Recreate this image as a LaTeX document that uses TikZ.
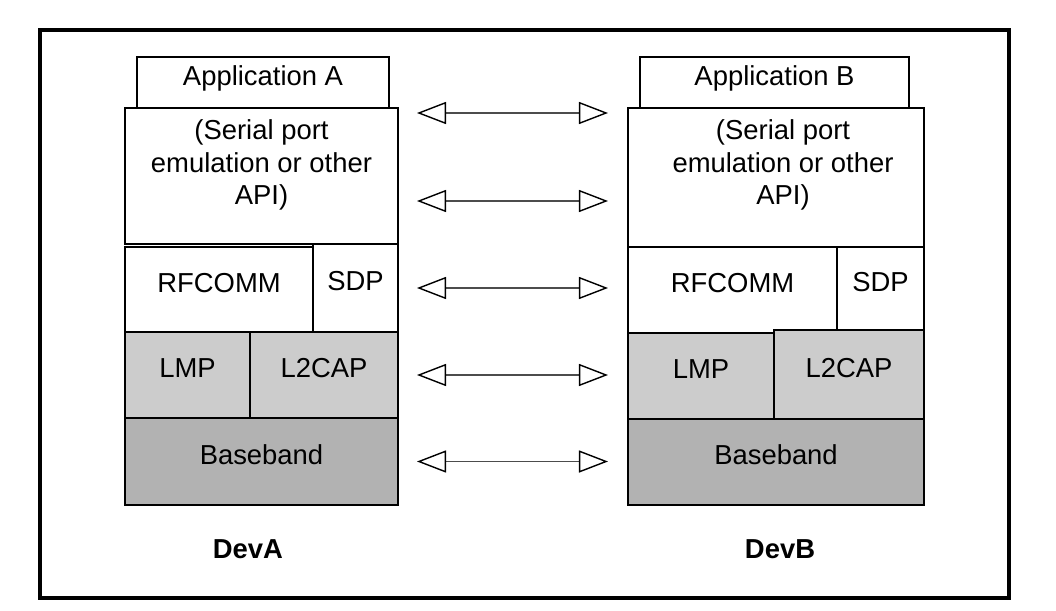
\documentclass[tikz,border=0pt]{standalone}
\usepackage{fontspec}
\setmainfont{Liberation Sans}
\usetikzlibrary{arrows.meta}
\definecolor{LayerGray}{gray}{0.8}
\definecolor{BaseGray}{gray}{0.7}
\definecolor{ArrowGray}{gray}{0.3}
\newcommand{\pxu}{0.025cm}

\begin{document}
\begin{tikzpicture}[x=0.025cm, y=-0.025cm,
    font=\fontsize{19.5}{23.4}\selectfont,
    layer/.style={draw, line width=1.1pt, fill=white, anchor=north west,
        inner sep=0pt, outer sep=0pt, text height=0.75em, text depth=0.39em},
    lowlayer/.style={layer, fill=LayerGray},
    baselayer/.style={layer, fill=BaseGray},
    apitext/.style={anchor=north, align=center, inner sep=0pt},
    biarrow/.style={ArrowGray, line width=0.8pt,
        {Triangle[open, length=0.725cm, width=0.55cm, color=black, line width=1pt]}-{Triangle[open, length=0.725cm, width=0.55cm, color=black, line width=1pt]},
        shorten <=0.475cm, shorten >=0.5cm},
    devlabel/.style={font=\fontsize{19.5}{23.4}\selectfont\bfseries}]

\useasboundingbox (0,0) rectangle (1056,610);

% marco
\draw[line width=2.2pt] (40,30) rectangle (1009,598);

% pila DevA
\node[layer, minimum width=252*\pxu, minimum height=51*\pxu] (appA) at (137,57) {Application A};
\node[layer, minimum width=273*\pxu, minimum height=136*\pxu] (apiA) at (125,108) {};
\node[apitext] (apiAtext) at ([yshift=-11*\pxu]apiA.north) {(Serial port\\emulation or other\\API)};
\node[layer, minimum width=188*\pxu, minimum height=85*\pxu] (rfA) at (125,247) {RFCOMM};
\node[layer, minimum width=85*\pxu, minimum height=88*\pxu] (sdpA) at (313,244) {SDP};
\node[lowlayer, minimum width=125*\pxu, minimum height=86*\pxu] (lmpA) at (125,332) {LMP};
\node[lowlayer, minimum width=148*\pxu, minimum height=86*\pxu] (l2A) at (250,332) {L2CAP};
\node[baselayer, minimum width=273*\pxu, minimum height=87*\pxu] (bbA) at (125,418) {Baseband};

% pila DevB
\node[layer, minimum width=269*\pxu, minimum height=51*\pxu] (appB) at (640,57) {Application B};
\node[layer, minimum width=296*\pxu, minimum height=139*\pxu] (apiB) at (628,108) {};
\node[apitext] (apiBtext) at ([xshift=7*\pxu, yshift=-11*\pxu]apiB.north) {(Serial port\\emulation or other\\API)};
\node[layer, minimum width=209*\pxu, minimum height=86*\pxu] (rfB) at (628,247) {RFCOMM};
\node[layer, minimum width=87*\pxu, minimum height=83*\pxu] (sdpB) at (837,247) {SDP};
\node[lowlayer, minimum width=146*\pxu, minimum height=86*\pxu] (lmpB) at (628,333) {LMP};
\node[lowlayer, minimum width=150*\pxu, minimum height=89*\pxu] (l2B) at (774,330) {L2CAP};
\node[baselayer, minimum width=296*\pxu, minimum height=86*\pxu] (bbB) at (628,419) {Baseband};

% flechas entre capas pares
\draw[biarrow] ([yshift=-5*\pxu]apiA.north east) -- ([yshift=-5*\pxu]apiB.north west);
\draw[biarrow] ([yshift=-93*\pxu]apiA.north east) -- ([yshift=-93*\pxu]apiB.north west);
\draw[biarrow] (sdpA.east) -- (sdpA.east -| rfB.west);
\draw[biarrow] (l2A.east) -- (l2A.east -| lmpB.west);
\draw[biarrow] (bbA.east) -- (bbA.east -| bbB.west);

% nombres de dispositivo
\node[devlabel] (devA) at (248,549) {DevA};
\node[devlabel] (devB) at (780,549) {DevB};

\end{tikzpicture}
\end{document}
